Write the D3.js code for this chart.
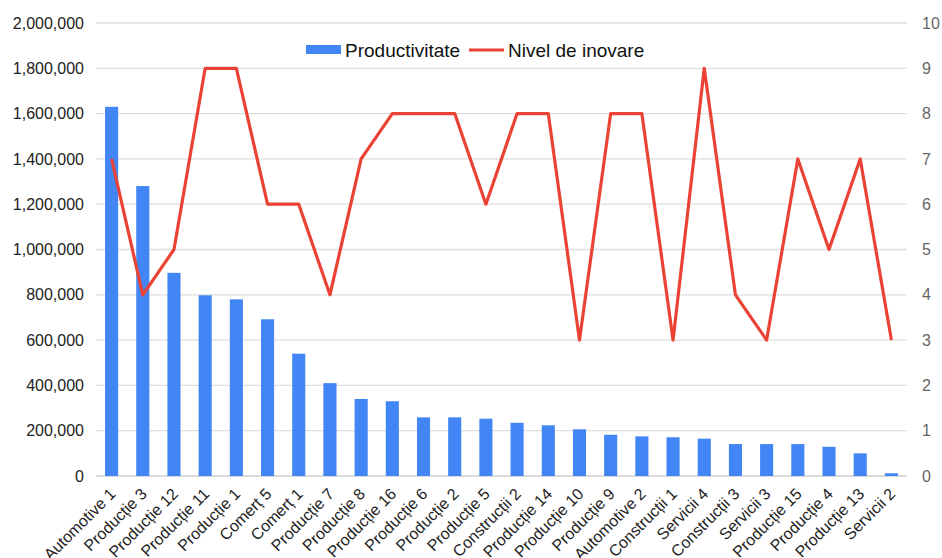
<!DOCTYPE html>
<html>
<head>
<meta charset="utf-8">
<script src="https://cdn.jsdelivr.net/npm/d3@7"></script>
<style>
  html, body { margin: 0; padding: 0; background: #fff; }
  svg { display: block; font-family: "Liberation Sans", Arial, sans-serif; }
</style>
</head>
<body>
<svg id="chart" width="942" height="558"></svg>
<script>
// Companies, sorted by productivity
const categories = [
  "Automotive 1", "Producție 3", "Producție 12", "Producție 11", "Producție 1",
  "Comerț 5", "Comerț 1", "Producție 7", "Producție 8", "Producție 16",
  "Producție 6", "Producție 2", "Producție 5", "Construcții 2", "Producție 14",
  "Producție 10", "Producție 9", "Automotive 2", "Construcții 1", "Servicii 4",
  "Construcții 3", "Servicii 3", "Producție 15", "Producție 4", "Producție 13",
  "Servicii 2"
];
const productivitate = [
  1630000, 1280000, 897000, 798000, 780000,
  692000, 540000, 410000, 340000, 330000,
  259000, 259000, 253000, 235000, 224000,
  206000, 182000, 175000, 171000, 165000,
  141000, 141000, 141000, 129000, 100000,
  12000
];
const nivelInovare = [
  7, 4, 5, 9, 9,
  6, 6, 4, 7, 8,
  8, 8, 6, 8, 8,
  3, 8, 8, 3, 9,
  4, 3, 7, 5, 7,
  3
];
const leftTicks = [0, 200000, 400000, 600000, 800000, 1000000, 1200000, 1400000, 1600000, 1800000, 2000000];
const rightTicks = [0, 1, 2, 3, 4, 5, 6, 7, 8, 9, 10];
const seriesNames = ["Productivitate", "Nivel de inovare"];

const svg = d3.select("#chart");
const m = { left: 96, right: 907, top: 23, bottom: 476 };
const blue = "#4285f4", red = "#ea4335";

const x = d3.scaleBand().domain(categories).range([m.left, m.right]).paddingInner(0.58).paddingOuter(0.29);
const yL = d3.scaleLinear().domain([0, 2000000]).range([m.bottom, m.top]);
const yR = d3.scaleLinear().domain([0, 10]).range([m.bottom, m.top]);

// Horizontal gridlines
svg.append("g").selectAll("line").data(leftTicks).join("line")
  .attr("x1", m.left).attr("x2", m.right)
  .attr("y1", d => yL(d)).attr("y2", d => yL(d))
  .attr("stroke", d => d === 0 ? "#cfcfcf" : "#dedede")
  .attr("stroke-width", 1.3);

// Left axis
const fmt = d3.format(",");
svg.append("g")
  .attr("transform", `translate(${m.left - 12},0)`)
  .call(d3.axisLeft(yL).tickValues(leftTicks).tickFormat(fmt).tickSize(0).tickPadding(0))
  .call(g => g.select(".domain").remove())
  .call(g => g.selectAll("text").attr("font-size", 16).attr("fill", "#222").attr("font-family", "Liberation Sans, Arial, sans-serif"));

// Right axis
svg.append("g")
  .attr("transform", `translate(${m.right + 15},0)`)
  .call(d3.axisRight(yR).tickValues(rightTicks).tickSize(0).tickPadding(0))
  .call(g => g.select(".domain").remove())
  .call(g => g.selectAll("text").attr("font-size", 16).attr("fill", "#666").attr("font-family", "Liberation Sans, Arial, sans-serif"));

// Bars
svg.append("g").selectAll("rect").data(categories).join("rect")
  .attr("x", d => x(d))
  .attr("width", x.bandwidth())
  .attr("y", (d, i) => yL(productivitate[i]))
  .attr("height", (d, i) => yL(0) - yL(productivitate[i]))
  .attr("fill", blue);

// Innovation line
const line = d3.line()
  .x((d, i) => x(categories[i]) + x.bandwidth() / 2)
  .y(d => yR(d));
svg.append("path").datum(nivelInovare)
  .attr("d", line)
  .attr("fill", "none")
  .attr("stroke", red)
  .attr("stroke-width", 3.2)
  .attr("stroke-linejoin", "round");

// Category labels, rotated
svg.append("g")
  .attr("transform", `translate(0,${m.bottom})`)
  .call(d3.axisBottom(x).tickSize(0).tickPadding(0))
  .call(g => g.select(".domain").remove())
  .call(g => g.selectAll("text")
    .attr("font-size", 16).attr("fill", "#222")
    .attr("font-family", "Liberation Sans, Arial, sans-serif")
    .attr("text-anchor", "end")
    .attr("dy", null)
    .attr("transform", "translate(5,19) rotate(-45)"));

// Legend
const lg = svg.append("g");
lg.append("rect").attr("x", 306).attr("y", 45).attr("width", 35).attr("height", 9).attr("fill", blue);
lg.append("text").attr("x", 345).attr("y", 56.5).attr("font-size", 19).attr("fill", "#111").text(seriesNames[0]);
lg.append("line").attr("x1", 469).attr("x2", 504).attr("y1", 50).attr("y2", 50)
  .attr("stroke", red).attr("stroke-width", 3.2);
lg.append("text").attr("x", 508).attr("y", 56.5).attr("font-size", 19).attr("fill", "#111").text(seriesNames[1]);
</script>
</body>
</html>
